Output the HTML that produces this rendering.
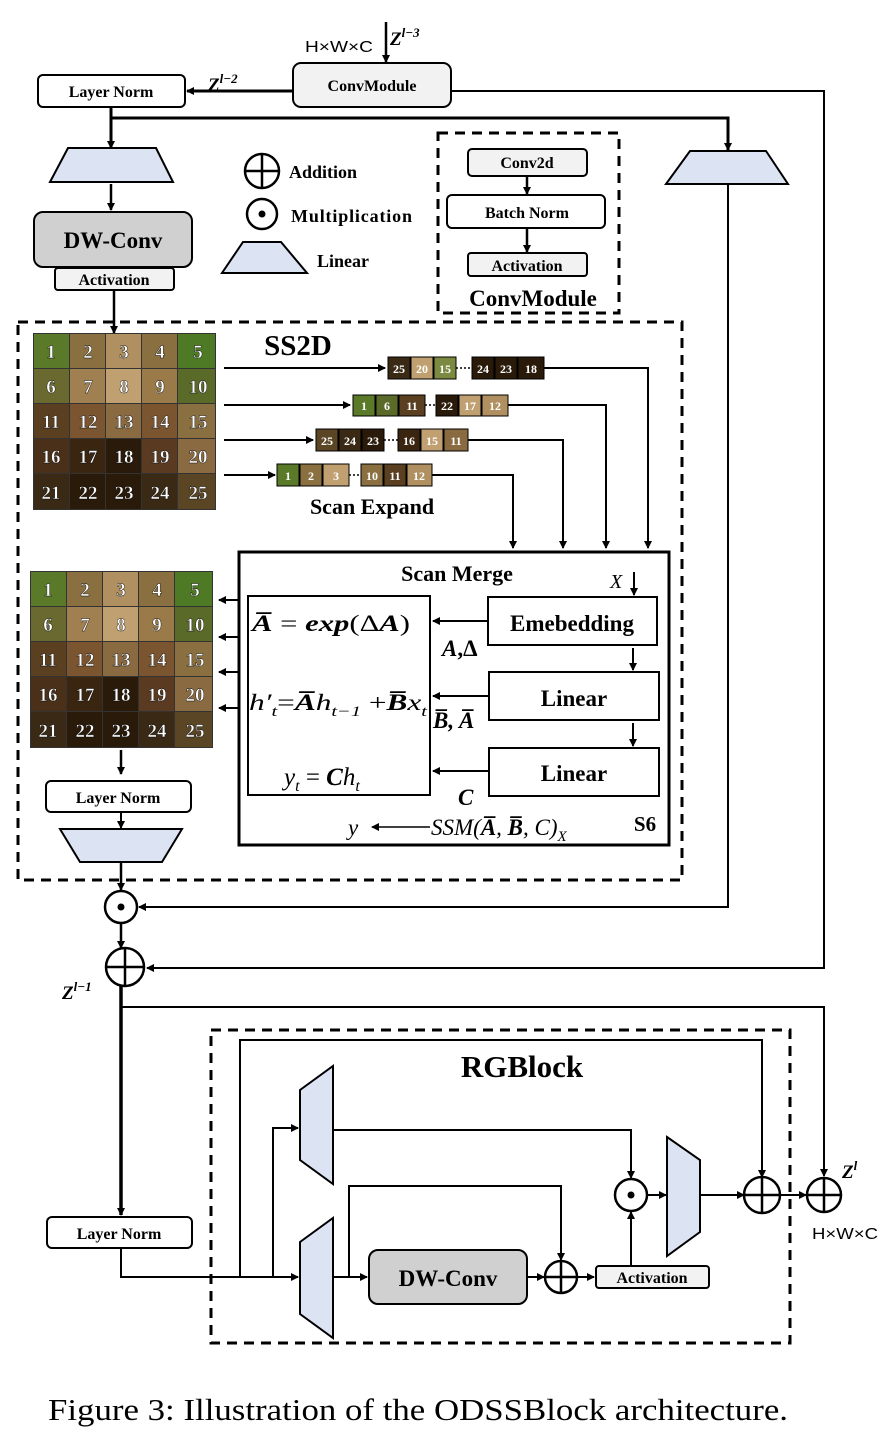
<!DOCTYPE html>
<html><head><meta charset="utf-8"><style>
html,body{margin:0;padding:0;background:#fff;}
svg{display:block;font-family:"Liberation Serif",serif;}
.b{font-weight:bold;}
</style></head><body>
<svg width="894" height="1437" viewBox="0 0 894 1437" xmlns="http://www.w3.org/2000/svg">
<defs>
<marker id="a" markerWidth="8" markerHeight="8" refX="7" refY="4" orient="auto" markerUnits="userSpaceOnUse"><path d="M0,0 L8,4 L0,8 z" fill="#000"/></marker>
<g id="grid">
<rect x="0" y="0" width="183" height="177" fill="#333"/>
<rect x="1" y="1" width="35" height="34" fill="#5a7a2a"/><rect x="37" y="1" width="35" height="34" fill="#8a7040"/><rect x="73" y="1" width="35" height="34" fill="#b09060"/><rect x="109" y="1" width="35" height="34" fill="#8a7040"/><rect x="145" y="1" width="37" height="34" fill="#4f7a25"/>
<rect x="1" y="36" width="35" height="34" fill="#6a6a30"/><rect x="37" y="36" width="35" height="34" fill="#a08050"/><rect x="73" y="36" width="35" height="34" fill="#c0a070"/><rect x="109" y="36" width="35" height="34" fill="#9a7a48"/><rect x="145" y="36" width="37" height="34" fill="#5a6a28"/>
<rect x="1" y="71" width="35" height="34" fill="#5a4020"/><rect x="37" y="71" width="35" height="34" fill="#7a5530"/><rect x="73" y="71" width="35" height="34" fill="#8a6a40"/><rect x="109" y="71" width="35" height="34" fill="#7a5530"/><rect x="145" y="71" width="37" height="34" fill="#8a7040"/>
<rect x="1" y="106" width="35" height="34" fill="#4a3018"/><rect x="37" y="106" width="35" height="34" fill="#3a2510"/><rect x="73" y="106" width="35" height="34" fill="#2a1a0a"/><rect x="109" y="106" width="35" height="34" fill="#5a3a20"/><rect x="145" y="106" width="37" height="34" fill="#8a6a40"/>
<rect x="1" y="141" width="35" height="35" fill="#3a2a15"/><rect x="37" y="141" width="35" height="35" fill="#2a1a0a"/><rect x="73" y="141" width="35" height="35" fill="#2a1a0a"/><rect x="109" y="141" width="35" height="35" fill="#3a2a15"/><rect x="145" y="141" width="37" height="35" fill="#5a4525"/>
<g fill="#fff" font-size="19" font-weight="bold" text-anchor="middle" stroke="#000" stroke-width="0.4">
<text x="18" y="25">1</text><text x="55" y="25">2</text><text x="91" y="25">3</text><text x="127" y="25">4</text><text x="165" y="25">5</text>
<text x="18" y="60">6</text><text x="55" y="60">7</text><text x="91" y="60">8</text><text x="127" y="60">9</text><text x="165" y="60">10</text>
<text x="18" y="95">11</text><text x="55" y="95">12</text><text x="91" y="95">13</text><text x="127" y="95">14</text><text x="165" y="95">15</text>
<text x="18" y="130">16</text><text x="55" y="130">17</text><text x="91" y="130">18</text><text x="127" y="130">19</text><text x="165" y="130">20</text>
<text x="18" y="166">21</text><text x="55" y="166">22</text><text x="91" y="166">23</text><text x="127" y="166">24</text><text x="165" y="166">25</text>
</g>
</g>
</defs>

<g stroke="#000" fill="none">
<line x1="386" y1="22" x2="386" y2="62" stroke-width="2.5" marker-end="url(#a)"/>
<rect x="293" y="63" width="158" height="44" rx="8" fill="#f2f2f2" stroke-width="2"/>
<line x1="293" y1="91" x2="187" y2="91" stroke-width="3" marker-end="url(#a)"/>
<rect x="38" y="75" width="147" height="32" rx="5" fill="#fff" stroke-width="2"/>
<polyline points="451,91 824,91 824,968 147,968" stroke-width="2" marker-end="url(#a)"/>
<polyline points="111,107 111,118 728,118 728,150" stroke-width="3" marker-end="url(#a)"/>
<line x1="111" y1="118" x2="111" y2="148" stroke-width="3" marker-end="url(#a)"/>
<polygon points="68,148 156,148 173,182 50,182" fill="#dce3f2" stroke-width="2"/>
<line x1="111" y1="184" x2="111" y2="210" stroke-width="2.5" marker-end="url(#a)"/>
<rect x="34" y="212" width="158" height="55" rx="9" fill="#d0d0d0" stroke-width="2"/>
<rect x="55" y="268" width="119" height="22" rx="3" fill="#f2f2f2" stroke-width="2"/>
<line x1="114" y1="290" x2="114" y2="333" stroke-width="2.5" marker-end="url(#a)"/>
<circle cx="262" cy="171" r="17" fill="#fff" stroke-width="2.5"/><line x1="245" y1="171" x2="279" y2="171" stroke-width="2.5"/><line x1="262" y1="154" x2="262" y2="188" stroke-width="2.5"/>
<circle cx="262" cy="214" r="15" fill="#fff" stroke-width="2.5"/><circle cx="262" cy="214" r="3.5" fill="#000" stroke="none"/>
<polygon points="243,242 281,242 307,273 222,273" fill="#dce3f2" stroke-width="2"/>
<rect x="438" y="133" width="181" height="180" stroke-width="3" stroke-dasharray="10,7"/>
<rect x="468" y="149" width="119" height="27" rx="4" fill="#f2f2f2" stroke-width="2"/>
<line x1="527" y1="176" x2="527" y2="194" stroke-width="2.5" marker-end="url(#a)"/>
<rect x="447" y="195" width="158" height="33" rx="5" fill="#fff" stroke-width="2"/>
<line x1="527" y1="228" x2="527" y2="252" stroke-width="2.5" marker-end="url(#a)"/>
<rect x="468" y="253" width="119" height="23" rx="3" fill="#f2f2f2" stroke-width="2"/>
<polygon points="690,151 766,151 788,184 666,184" fill="#dce3f2" stroke-width="2"/>
<polyline points="728,184 728,907 139,907" stroke-width="2" marker-end="url(#a)"/>
<rect x="18" y="322" width="664" height="558" stroke-width="3" stroke-dasharray="10,7"/>
<line x1="224" y1="368" x2="385" y2="368" stroke-width="2" marker-end="url(#a)"/>
<line x1="224" y1="405" x2="350" y2="405" stroke-width="2" marker-end="url(#a)"/>
<line x1="224" y1="440" x2="313" y2="440" stroke-width="2" marker-end="url(#a)"/>
<line x1="224" y1="475" x2="275" y2="475" stroke-width="2" marker-end="url(#a)"/>
<polyline points="544,368 648,368 648,548" stroke-width="2" marker-end="url(#a)"/>
<polyline points="508,405 606,405 606,548" stroke-width="2" marker-end="url(#a)"/>
<polyline points="468,440 563,440 563,548" stroke-width="2" marker-end="url(#a)"/>
<polyline points="432,475 513,475 513,548" stroke-width="2" marker-end="url(#a)"/>
<rect x="239" y="552" width="430" height="293" stroke-width="3"/>
<rect x="248" y="596" width="182" height="199" stroke-width="2"/>
<rect x="488" y="597" width="169" height="48" stroke-width="2"/>
<rect x="489" y="672" width="170" height="48" stroke-width="2"/>
<rect x="489" y="748" width="170" height="48" stroke-width="2"/>
<line x1="634" y1="572" x2="634" y2="595" stroke-width="2" marker-end="url(#a)"/>
<line x1="633" y1="648" x2="633" y2="670" stroke-width="2" marker-end="url(#a)"/>
<line x1="633" y1="723" x2="633" y2="746" stroke-width="2" marker-end="url(#a)"/>
<line x1="488" y1="621" x2="433" y2="621" stroke-width="2" marker-end="url(#a)"/>
<line x1="489" y1="696" x2="433" y2="696" stroke-width="2" marker-end="url(#a)"/>
<line x1="489" y1="771" x2="433" y2="771" stroke-width="2" marker-end="url(#a)"/>
<line x1="430" y1="827" x2="372" y2="827" stroke-width="1.5" marker-end="url(#a)"/>
<line x1="239" y1="600" x2="219" y2="600" stroke-width="2" marker-end="url(#a)"/>
<line x1="239" y1="637" x2="219" y2="637" stroke-width="2" marker-end="url(#a)"/>
<line x1="239" y1="672" x2="219" y2="672" stroke-width="2" marker-end="url(#a)"/>
<line x1="239" y1="708" x2="219" y2="708" stroke-width="2" marker-end="url(#a)"/>
<line x1="121" y1="750" x2="121" y2="774" stroke-width="2.5" marker-end="url(#a)"/>
<rect x="46" y="781" width="145" height="31" rx="5" fill="#fff" stroke-width="2"/>
<line x1="121" y1="812" x2="121" y2="828" stroke-width="2" marker-end="url(#a)"/>
<polygon points="60,829 182,829 162,862 80,862" fill="#dce3f2" stroke-width="2"/>
<line x1="121" y1="862" x2="121" y2="890" stroke-width="2.5" marker-end="url(#a)"/>
<circle cx="121" cy="907" r="16" fill="#fff" stroke-width="2.5"/><circle cx="121" cy="907" r="3.5" fill="#000" stroke="none"/>
<line x1="121" y1="923" x2="121" y2="948" stroke-width="2.5" marker-end="url(#a)"/>
<circle cx="125" cy="967" r="19" fill="#fff" stroke-width="2.5"/><line x1="106" y1="967" x2="144" y2="967" stroke-width="2.5"/><line x1="125" y1="948" x2="125" y2="986" stroke-width="2.5"/>
<line x1="121" y1="986" x2="121" y2="1215" stroke-width="3.5" marker-end="url(#a)"/>
<polyline points="121,1007 824,1007 824,1176" stroke-width="2" marker-end="url(#a)"/>
<rect x="47" y="1217" width="145" height="31" rx="5" fill="#fff" stroke-width="2"/>
<rect x="211" y="1030" width="579" height="313" stroke-width="3" stroke-dasharray="10,7"/>
<polyline points="121,1248 121,1277 298,1277" stroke-width="2" marker-end="url(#a)"/>
<polyline points="240,1277 240,1040 762,1040 762,1177" stroke-width="2" marker-end="url(#a)"/>
<polyline points="273,1277 273,1128 298,1128" stroke-width="2" marker-end="url(#a)"/>
<polygon points="300,1090 333,1066 333,1184 300,1160" fill="#dce3f2" stroke-width="2"/>
<polygon points="300,1242 333,1218 333,1338 300,1314" fill="#dce3f2" stroke-width="2"/>
<polygon points="667,1137 700,1160 700,1232 667,1256" fill="#dce3f2" stroke-width="2"/>
<polyline points="333,1130 631,1130 631,1178" stroke-width="2" marker-end="url(#a)"/>
<line x1="333" y1="1277" x2="367" y2="1277" stroke-width="2" marker-end="url(#a)"/>
<polyline points="349,1277 349,1186 561,1186 561,1260" stroke-width="2" marker-end="url(#a)"/>
<rect x="369" y="1250" width="158" height="54" rx="9" fill="#d0d0d0" stroke-width="2"/>
<line x1="527" y1="1277" x2="544" y2="1277" stroke-width="2" marker-end="url(#a)"/>
<circle cx="561" cy="1277" r="16" fill="#fff" stroke-width="2.5"/><line x1="545" y1="1277" x2="577" y2="1277" stroke-width="2.5"/><line x1="561" y1="1261" x2="561" y2="1293" stroke-width="2.5"/>
<line x1="577" y1="1277" x2="594" y2="1277" stroke-width="2" marker-end="url(#a)"/>
<rect x="596" y="1266" width="113" height="22" rx="3" fill="#f2f2f2" stroke-width="2"/>
<line x1="631" y1="1266" x2="631" y2="1212" stroke-width="2" marker-end="url(#a)"/>
<circle cx="631" cy="1195" r="16" fill="#fff" stroke-width="2.5"/><circle cx="631" cy="1195" r="3.5" fill="#000" stroke="none"/>
<line x1="647" y1="1195" x2="666" y2="1195" stroke-width="2" marker-end="url(#a)"/>
<line x1="700" y1="1195" x2="744" y2="1195" stroke-width="2" marker-end="url(#a)"/>
<circle cx="762" cy="1195" r="18" fill="#fff" stroke-width="2.5"/><line x1="744" y1="1195" x2="780" y2="1195" stroke-width="2.5"/><line x1="762" y1="1177" x2="762" y2="1213" stroke-width="2.5"/>
<line x1="780" y1="1195" x2="806" y2="1195" stroke-width="2" marker-end="url(#a)"/>
<circle cx="824" cy="1195" r="17" fill="#fff" stroke-width="2.5"/><line x1="807" y1="1195" x2="841" y2="1195" stroke-width="2.5"/><line x1="824" y1="1178" x2="824" y2="1212" stroke-width="2.5"/>
</g>

<use href="#grid" x="33" y="333"/>
<use href="#grid" x="30" y="571"/>

<g stroke="#000" stroke-width="1">
<rect x="388" y="357" width="22" height="22" fill="#3a2a15"/><rect x="411" y="357" width="22" height="22" fill="#c0a070"/><rect x="434" y="357" width="22" height="22" fill="#7a8a40"/>
<rect x="472" y="357" width="22" height="22" fill="#2a1a0a"/><rect x="495" y="357" width="22" height="22" fill="#2a1a0a"/><rect x="518" y="357" width="26" height="22" fill="#2a1a0a"/>
<rect x="353" y="395" width="22" height="21" fill="#5a7a2a"/><rect x="376" y="395" width="22" height="21" fill="#5a6a28"/><rect x="399" y="395" width="26" height="21" fill="#5a4020"/>
<rect x="436" y="395" width="22" height="21" fill="#2a1a0a"/><rect x="459" y="395" width="22" height="21" fill="#c0a070"/><rect x="482" y="395" width="26" height="21" fill="#b09060"/>
<rect x="316" y="429" width="22" height="22" fill="#5a4525"/><rect x="339" y="429" width="22" height="22" fill="#3a2a15"/><rect x="362" y="429" width="22" height="22" fill="#2a1a0a"/>
<rect x="398" y="429" width="22" height="22" fill="#3a2510"/><rect x="421" y="429" width="22" height="22" fill="#c0a070"/><rect x="444" y="429" width="24" height="22" fill="#8a6a40"/>
<rect x="277" y="464" width="22" height="22" fill="#5a7a2a"/><rect x="300" y="464" width="22" height="22" fill="#8a7040"/><rect x="323" y="464" width="26" height="22" fill="#c0a070"/>
<rect x="361" y="464" width="22" height="22" fill="#8a7040"/><rect x="384" y="464" width="22" height="22" fill="#5a4020"/><rect x="407" y="464" width="25" height="22" fill="#b09060"/>
</g>
<g stroke="#000" stroke-width="1.5" stroke-dasharray="2,2">
<line x1="456" y1="368" x2="472" y2="368"/><line x1="425" y1="405" x2="436" y2="405"/><line x1="384" y1="440" x2="398" y2="440"/><line x1="349" y1="475" x2="361" y2="475"/>
</g>
<g fill="#fff" font-size="12" font-weight="bold" text-anchor="middle">
<text x="399" y="373">25</text><text x="422" y="373">20</text><text x="445" y="373">15</text><text x="483" y="373">24</text><text x="506" y="373">23</text><text x="531" y="373">18</text>
<text x="364" y="410">1</text><text x="387" y="410">6</text><text x="412" y="410">11</text><text x="447" y="410">22</text><text x="470" y="410">17</text><text x="495" y="410">12</text>
<text x="327" y="445">25</text><text x="350" y="445">24</text><text x="373" y="445">23</text><text x="409" y="445">16</text><text x="432" y="445">15</text><text x="456" y="445">11</text>
<text x="288" y="480">1</text><text x="311" y="480">2</text><text x="336" y="480">3</text><text x="372" y="480">10</text><text x="395" y="480">11</text><text x="419" y="480">12</text>
</g>

<g font-family="Liberation Sans, sans-serif" font-size="16">
<text x="305" y="52" textLength="68" lengthAdjust="spacingAndGlyphs">H×W×C</text>
<text x="812" y="1239" textLength="66" lengthAdjust="spacingAndGlyphs">H×W×C</text>
</g>
<g class="b" font-size="19" font-style="italic">
<text x="390" y="45">Z<tspan font-size="13" dy="-8">l−3</tspan></text>
<text x="208" y="91">Z<tspan font-size="13" dy="-8">l−2</tspan></text>
<text x="62" y="999">Z<tspan font-size="13" dy="-8">l−1</tspan></text>
<text x="842" y="1178">Z<tspan font-size="13" dy="-8">l</tspan></text>
</g>
<g class="b" font-size="16">
<text x="372" y="91" text-anchor="middle">ConvModule</text>
<text x="111" y="97" text-anchor="middle">Layer Norm</text>
<text x="114" y="285" text-anchor="middle">Activation</text>
<text x="527" y="168" text-anchor="middle">Conv2d</text>
<text x="527" y="218" text-anchor="middle">Batch Norm</text>
<text x="527" y="271" text-anchor="middle">Activation</text>
<text x="118" y="803" text-anchor="middle">Layer Norm</text>
<text x="119" y="1239" text-anchor="middle">Layer Norm</text>
<text x="652" y="1283" text-anchor="middle">Activation</text>
</g>
<g class="b" font-size="18">
<text x="289" y="178">Addition</text>
<text x="291" y="222" textLength="121">Multiplication</text>
<text x="317" y="267">Linear</text>
</g>
<text x="113" y="248" class="b" font-size="23" text-anchor="middle">DW-Conv</text>
<text x="448" y="1286" class="b" font-size="23" text-anchor="middle">DW-Conv</text>
<text x="533" y="306" class="b" font-size="23" text-anchor="middle">ConvModule</text>
<text x="298" y="355" class="b" font-size="29" text-anchor="middle">SS2D</text>
<text x="372" y="514" class="b" font-size="22" text-anchor="middle">Scan Expand</text>
<text x="457" y="581" class="b" font-size="22" text-anchor="middle">Scan Merge</text>
<text x="522" y="1077" class="b" font-size="31" text-anchor="middle">RGBlock</text>
<text x="572" y="631" class="b" font-size="23" text-anchor="middle">Emebedding</text>
<text x="574" y="706" class="b" font-size="23" text-anchor="middle">Linear</text>
<text x="574" y="781" class="b" font-size="23" text-anchor="middle">Linear</text>
<text x="645" y="831" class="b" font-size="21" text-anchor="middle">S6</text>
<text x="610" y="588" font-style="italic" font-size="20">X</text>
<g font-size="23" font-style="italic">
<text x="252" y="631" textLength="158" lengthAdjust="spacingAndGlyphs"><tspan font-weight="bold">A̅</tspan><tspan font-style="normal"> = </tspan><tspan font-weight="bold">exp</tspan><tspan font-style="normal">(Δ</tspan><tspan font-weight="bold">A</tspan><tspan font-style="normal">)</tspan></text>
<text x="249" y="710" textLength="178" lengthAdjust="spacingAndGlyphs">h′<tspan font-size="15" dy="6">t</tspan><tspan dy="-6" font-style="normal">=</tspan><tspan font-weight="bold">A̅</tspan>h<tspan font-size="15" dy="6">t−1</tspan><tspan dy="-6" font-style="normal"> +</tspan><tspan font-weight="bold">B̅</tspan>x<tspan font-size="15" dy="6">t</tspan></text>
<text x="284" y="785" font-size="25">y<tspan font-size="16" dy="6">t</tspan><tspan dy="-6" font-style="normal"> = </tspan><tspan font-weight="bold">C</tspan>h<tspan font-size="16" dy="6">t</tspan></text>
<text x="442" y="656" font-weight="bold">A<tspan font-style="normal">,Δ</tspan></text>
<text x="433" y="728" font-weight="bold">B̅, A̅</text>
<text x="458" y="805" font-weight="bold">C</text>
<text x="348" y="835">y</text>
<text x="431" y="835">SSM(<tspan font-weight="bold">A̅</tspan>, <tspan font-weight="bold">B̅</tspan>, C)<tspan font-size="15" dy="6">X</tspan></text>
</g>
<text x="48" y="1420" font-size="31" textLength="740" lengthAdjust="spacingAndGlyphs">Figure 3: Illustration of the ODSSBlock architecture.</text>
</svg>
</body></html>
